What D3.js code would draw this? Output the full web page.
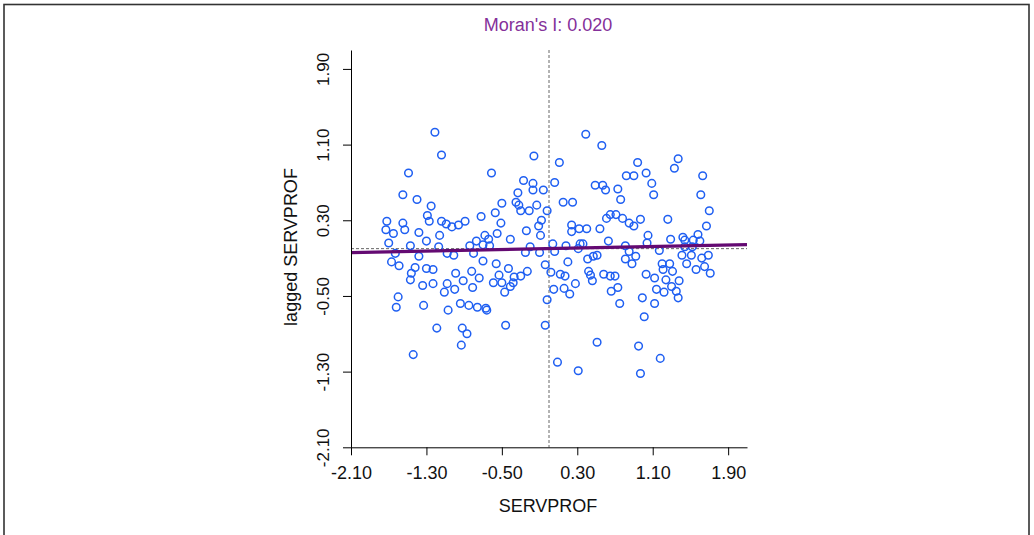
<!DOCTYPE html>
<html><head><meta charset="utf-8">
<script src="https://cdn.jsdelivr.net/npm/d3@7"></script>
<style>
body{margin:0;background:#fff}
svg{display:block}
text{font-family:"Liberation Sans",Arial,sans-serif}
</style>
</head><body>
<svg id="c" width="1034" height="535"></svg>
<script>
// SERVPROF (standardised) values
const servprof = [
-1.21,-1.14,-1.49,-1.55,-1.40,-1.25,-1.29,-1.72,-1.55,-1.14,-1.27,-1.09,-1.73,-1.65,-1.53,-1.38,-1.16,-1.30,-1.70,-1.47,-1.17,-1.38,-1.63,-1.08,-1.67,-1.59,-1.42,-1.30,-1.23,-1.46,-1.47,-1.34,-1.23,-1.08,-1.11,-1.60,-1.62,-1.33,-1.07,-1.19,-1.44,
-0.16,-0.61,-0.27,-0.17,-0.17,-0.06,-0.33,-0.50,-0.35,-0.32,-0.13,-0.30,-0.21,-0.02,-0.57,-0.72,-0.51,-0.08,-0.89,-0.96,-1.03,-0.11,-0.24,-0.55,-0.09,-0.41,-0.68,-0.64,-0.77,-0.70,-0.63,-0.84,-0.20,
-1.01,-0.80,-0.25,-0.10,-0.70,-0.56,-0.43,-0.99,-0.82,-0.23,-0.53,-0.91,-0.74,-0.37,-0.30,-0.59,-0.50,-0.38,-1.00,-0.81,-0.41,-0.47,-0.94,-0.85,-0.76,-0.67,-0.66,-0.02,-0.46,-0.04,-0.92,-0.87,-0.93,
0.39,0.56,0.11,0.94,1.03,0.82,0.90,0.06,1.09,0.49,0.57,0.60,0.73,1.11,0.15,0.25,0.76,0.61,0.65,0.71,0.78,0.85,0.90,0.97,0.24,0.24,0.32,0.40,0.54,1.05,
0.04,0.18,0.33,0.36,0.63,0.81,0.06,0.31,0.51,0.47,0.41,0.81,0.85,0.92,0.88,0.20,-0.04,0.02,0.12,0.17,0.42,0.44,0.46,0.58,0.65,0.70,1.03,0.28,0.05,0.16,0.22,0.73,0.66,0.75,0.99,1.01,0.51,0.95,0.09,0.31,0.97,
1.37,1.33,1.63,1.61,1.70,1.26,1.67,1.29,1.42,1.44,1.53,1.58,1.60,1.52,1.44,1.04,
1.17,1.41,1.51,1.62,1.69,1.46,1.20,1.28,1.21,1.31,1.56,1.65,1.71,1.12,1.24,1.38,1.14,1.30,1.22,1.35,1.37,1.12,1.18
];
// spatially lagged SERVPROF values
const laggedServprof = [
1.23,0.99,0.80,0.57,0.52,0.45,0.35,0.29,0.27,0.29,0.29,0.26,0.20,0.16,0.20,0.17,0.14,0.08,0.06,0.03,0.02,-0.08,-0.05,-0.05,-0.14,-0.18,-0.20,-0.21,-0.22,-0.26,-0.33,-0.39,-0.37,-0.37,-0.46,-0.51,-0.62,-0.60,-0.65,-0.84,-1.12,
0.98,0.80,0.72,0.69,0.62,0.62,0.59,0.48,0.49,0.46,0.46,0.40,0.40,0.40,0.38,0.34,0.27,0.30,0.29,0.25,0.23,0.24,0.19,0.16,0.14,0.10,0.14,0.10,0.08,0.04,0.03,0.03,0.02,
-0.07,-0.05,-0.04,-0.04,-0.13,-0.16,-0.21,-0.26,-0.24,-0.24,-0.28,-0.34,-0.31,-0.30,-0.29,-0.36,-0.36,-0.36,-0.43,-0.41,-0.40,-0.46,-0.58,-0.60,-0.62,-0.63,-0.65,-0.54,-0.81,-0.81,-0.84,-0.90,-1.02,
1.21,1.09,0.91,0.91,0.80,0.77,0.77,0.70,0.69,0.67,0.67,0.62,0.63,0.57,0.49,0.49,0.52,0.32,0.36,0.36,0.32,0.27,0.24,0.31,0.25,0.18,0.21,0.21,0.21,0.14,
0.05,0.03,0.05,0.05,0.08,0.03,-0.03,0.00,-0.07,-0.08,-0.11,-0.11,-0.03,-0.08,-0.16,-0.14,-0.17,-0.25,-0.27,-0.29,-0.24,-0.28,-0.34,-0.27,-0.29,-0.29,-0.27,-0.37,-0.43,-0.42,-0.48,-0.41,-0.45,-0.58,-0.52,-0.72,-0.99,-1.03,-1.20,-1.29,-1.32,
0.95,0.85,0.77,0.57,0.40,0.31,0.24,0.10,0.12,0.09,0.09,0.15,0.08,0.02,0.02,0.06,
-0.02,-0.07,-0.07,-0.10,-0.07,-0.16,-0.16,-0.16,-0.22,-0.24,-0.22,-0.19,-0.26,-0.31,-0.33,-0.34,-0.43,-0.40,-0.46,-0.45,-0.52,-0.58,-1.16
];
const xTicks = [-2.10,-1.30,-0.50,0.30,1.10,1.90];
const yTicks = [-2.10,-1.30,-0.50,0.30,1.10,1.90];
const moranI = 0.020;
const titleText = "Moran's I: 0.020";
const xTitle = "SERVPROF";
const yTitle = "lagged SERVPROF";

const svg = d3.select("#c");
// frame
svg.append("rect").attr("x",4).attr("y",4.5).attr("width",1025).attr("height",600)
  .attr("fill","none").attr("stroke","#333").attr("stroke-width",1.6);

const x = d3.scaleLinear().domain([-2.1,2.1]).range([351,747]);
const y = d3.scaleLinear().domain([-2.1,2.1]).range([447.3,50]);

// reference dashed lines at mean 0
svg.append("line").attr("x1",x(0)).attr("x2",x(0)).attr("y1",y(2.1)).attr("y2",y(-2.1))
  .attr("stroke","#666").attr("stroke-dasharray","3,2").attr("stroke-width",1);
svg.append("line").attr("x1",x(-2.1)).attr("x2",x(2.1)).attr("y1",y(0)).attr("y2",y(0))
  .attr("stroke","#666").attr("stroke-dasharray","3,2").attr("stroke-width",1);

// points
svg.append("g").selectAll("circle").data(servprof.map((v,i)=>[v,laggedServprof[i]]))
  .join("circle")
  .attr("cx",d=>x(d[0])).attr("cy",d=>y(d[1])).attr("r",3.8)
  .attr("fill","none").attr("stroke","#1f5ff2").attr("stroke-width",1.5);

// regression line
svg.append("line").attr("x1",x(-2.1)).attr("x2",x(2.1))
  .attr("y1",y(moranI*-2.1)).attr("y2",y(moranI*2.1))
  .attr("stroke","#640a72").attr("stroke-width",3.2);

// axes
const fmt = d => d.toFixed(2);
const gx = svg.append("g").attr("transform",`translate(0,${y(-2.1)})`)
  .call(d3.axisBottom(x).tickValues(xTicks).tickFormat(fmt).tickSize(8).tickSizeOuter(0));
gx.selectAll("text").attr("y",32).attr("dy",0).attr("font-size",18).attr("fill","#111")
  .attr("font-family","Liberation Sans, Arial, sans-serif");
const gy = svg.append("g").attr("transform",`translate(${x(-2.1)},0)`)
  .call(d3.axisLeft(y).tickValues(yTicks).tickFormat(fmt).tickSize(8).tickSizeOuter(0));
gy.selectAll("text").attr("x",0).attr("dy",0).attr("text-anchor","middle")
  .attr("transform","translate(-22,0) rotate(-90)").attr("font-size",17).attr("fill","#111")
  .attr("font-family","Liberation Sans, Arial, sans-serif");
svg.selectAll(".domain, .tick line").attr("stroke","#000");

// titles
svg.append("text").attr("x",548).attr("y",31).attr("text-anchor","middle")
  .attr("font-size",18).attr("fill","#84309a").text(titleText);
svg.append("text").attr("x",548).attr("y",512).attr("text-anchor","middle")
  .attr("font-size",18).attr("fill","#111").text(xTitle);
svg.append("text").attr("transform","translate(297,247) rotate(-90)").attr("text-anchor","middle")
  .attr("font-size",18).attr("fill","#111").text(yTitle);
</script>
</body></html>
